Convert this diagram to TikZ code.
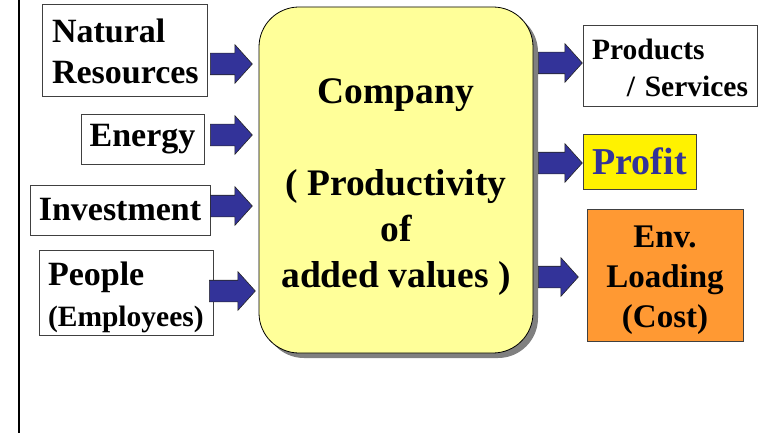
\documentclass[tikz,border=0pt]{standalone}
\usepackage{fontspec}
\setmainfont{Liberation Serif}
\usetikzlibrary{shapes.arrows,shadows}
\definecolor{navy}{HTML}{333399}
\definecolor{paleyellow}{HTML}{FFFF99}
\definecolor{envorange}{HTML}{FF9933}
\begin{document}
\begin{tikzpicture}[x=1pt,y=-1pt,
    box/.style={draw=black!75,line width=0.8pt,inner sep=0pt,
      font=\bfseries\fontsize{34}{41}\selectfont},
    blockarrow/.style={single arrow,draw=black!85,fill=navy,line width=0.6pt,
      inner xsep=0pt,inner ysep=10.5pt,single arrow head extend=8.5pt,
      single arrow tip angle=96,anchor=tail}]
    \useasboundingbox (0,0) rectangle (776,433);
    \draw[line width=1.6pt] (19,0) -- (19,433);
    % inputs
    \node[box,minimum height=92pt,text width=145pt,inner xsep=10pt,align=left]
      (natres) at (124.5,50) {\rule{0pt}{27pt}Natural\\Resources};
    \node[box,minimum width=123pt,minimum height=50pt] (energy) at (142.5,139) {Energy};
    \node[box,minimum width=180pt,minimum height=50pt] (invest) at (120,210) {Investment};
    \node[box,minimum height=85pt,text width=156pt,inner xsep=9pt,align=left]
      (people) at (126,292.5) {\rule{0pt}{34pt}People\\{\fontsize{29.5}{36}\selectfont(Employees)}};
    % company
    \node[draw=black,line width=0.8pt,fill=paleyellow,rounded corners=40pt,
      minimum width=274pt,minimum height=346pt,align=center,
      drop shadow={shadow xshift=5pt,shadow yshift=-5pt,fill=black!50,opacity=1},
      font=\bfseries\fontsize{37.5}{46}\selectfont]
      (company) at (396,180) {\rule{0pt}{38pt}Company\\[46pt]( Productivity\\of\\added values )};
    % outputs
    \node[box,minimum height=81pt,text width=156pt,inner xsep=9pt,align=left,
      font=\bfseries\fontsize{29.5}{37}\selectfont]
      (products) at (670,65.5) {\rule{0pt}{26pt}Products\\\hspace*{0pt plus 1filll}/ Services};
    \node[box,fill=yellow,text=navy,minimum width=113pt,minimum height=55pt,
      font=\bfseries\fontsize{38}{46}\selectfont] (profit) at (639.5,161.5) {Profit};
    \node[box,fill=envorange,minimum width=156pt,minimum height=132pt,align=center,
      font=\bfseries\fontsize{33}{40}\selectfont]
      (envload) at (665,275) {\rule{0pt}{32pt}Env.\\Loading\\(Cost)};
    % flows
    \node[blockarrow,minimum height=42pt] (natarr) at (210,64) {};
    \node[blockarrow,minimum height=42pt] (enarr) at (210,135) {};
    \node[blockarrow,minimum height=42pt] (invarr) at (210,206) {};
    \node[blockarrow,minimum height=46pt] (pplarr) at (209,291) {};
    \node[blockarrow,minimum height=44pt] (prodarr) at (538,63) {};
    \node[blockarrow,minimum height=44pt] (profarr) at (538,163) {};
    \node[blockarrow,minimum height=40pt] (envarr) at (538,277) {};
\end{tikzpicture}
\end{document}
